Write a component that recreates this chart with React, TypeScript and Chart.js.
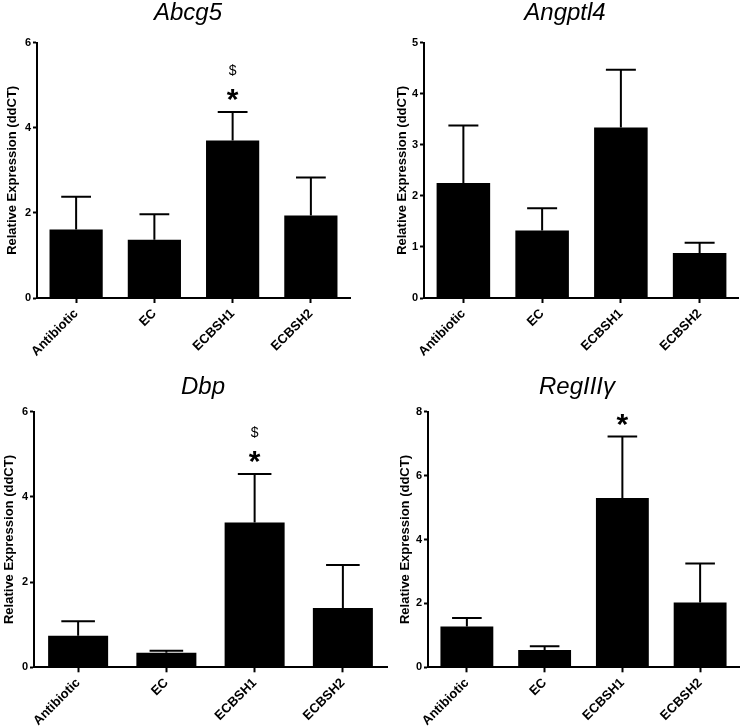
import React, { useEffect, useRef } from "react";
import { Chart, registerables } from "chart.js";

Chart.register(...registerables);

// ---------- data ----------
const categories = ["Antibiotic", "EC", "ECBSH1", "ECBSH2"];
const yAxisTitle = "Relative Expression (ddCT)";

const abcg5Mean = [1.61, 1.37, 3.7, 1.94];
const abcg5Err = [0.77, 0.6, 0.67, 0.89];
const abcg5Star = ["", "", "*", ""];
const abcg5Dollar = ["", "", "$", ""];
const abcg5Ticks = { max: 6, step: 2 };

const angptl4Mean = [2.25, 1.32, 3.34, 0.88];
const angptl4Err = [1.13, 0.44, 1.13, 0.2];
const angptl4Star = ["", "", "", ""];
const angptl4Dollar = ["", "", "", ""];
const angptl4Ticks = { max: 5, step: 1 };

const dbpMean = [0.74, 0.34, 3.4, 1.39];
const dbpErr = [0.34, 0.05, 1.14, 1.01];
const dbpStar = ["", "", "*", ""];
const dbpDollar = ["", "", "$", ""];
const dbpTicks = { max: 6, step: 2 };

const regMean = [1.28, 0.54, 5.3, 2.03];
const regErr = [0.26, 0.12, 1.92, 1.22];
const regStar = ["", "", "*", ""];
const regDollar = ["", "", "", ""];
const regTicks = { max: 8, step: 2 };

const FONT = "'Liberation Sans', Arial, Helvetica, sans-serif";

type PanelSpec = {
  title: string;
  mean: number[];
  err: number[];
  star: string[];
  dollar: string[];
  ticks: { max: number; step: number };
  left: number;
  top: number;
  width: number;
  height: number;
  yWidth: number;
  y2Width: number;
  xHeight: number;
  titlePadTop: number;
  titlePadBottom: number;
  yTitlePad: number;
};

const panels: PanelSpec[] = [
  {
    title: "Abcg5", mean: abcg5Mean, err: abcg5Err, star: abcg5Star, dollar: abcg5Dollar, ticks: abcg5Ticks,
    left: 0, top: 0, width: 376, height: 364, yWidth: 37, y2Width: 26, xHeight: 66,
    titlePadTop: 1, titlePadBottom: 17.7, yTitlePad: 4.8,
  },
  {
    title: "Angptl4", mean: angptl4Mean, err: angptl4Err, star: angptl4Star, dollar: angptl4Dollar, ticks: angptl4Ticks,
    left: 391, top: 0, width: 348, height: 364, yWidth: 33, y2Width: 0, xHeight: 66,
    titlePadTop: 1, titlePadBottom: 17.7, yTitlePad: 4,
  },
  {
    title: "Dbp", mean: dbpMean, err: dbpErr, star: dbpStar, dollar: dbpDollar, ticks: dbpTicks,
    left: 0, top: 364, width: 406, height: 364, yWidth: 34, y2Width: 19, xHeight: 60.7,
    titlePadTop: 11.3, titlePadBottom: 12.4, yTitlePad: 2,
  },
  {
    title: "RegIII\u03b3", mean: regMean, err: regErr, star: regStar, dollar: regDollar, ticks: regTicks,
    left: 394, top: 364, width: 366, height: 364, yWidth: 34, y2Width: 21, xHeight: 60.7,
    titlePadTop: 11.3, titlePadBottom: 12.4, yTitlePad: 4,
  },
];

function makeErrorPlugin(p: PanelSpec) {
  return {
    id: "errorBarsAndMarks",
    afterDatasetsDraw(chart: any) {
      const { ctx } = chart;
      const meta = chart.getDatasetMeta(0);
      const ys = chart.scales.y;
      ctx.save();
      ctx.strokeStyle = "#000";
      ctx.fillStyle = "#000";
      ctx.lineWidth = 2;
      ctx.lineCap = "butt";
      meta.data.forEach((bar: any, i: number) => {
        const v = p.mean[i];
        const topPx = ys.getPixelForValue(v + p.err[i]);
        const half = bar.width * 0.28;
        ctx.beginPath();
        ctx.moveTo(bar.x, bar.y);
        ctx.lineTo(bar.x, topPx);
        ctx.moveTo(bar.x - half, topPx);
        ctx.lineTo(bar.x + half, topPx);
        ctx.stroke();
        ctx.textAlign = "center";
        if (p.star[i]) {
          ctx.font = `bold 30px ${FONT}`;
          ctx.textBaseline = "alphabetic";
          ctx.fillText(p.star[i], bar.x, topPx - 3);
        }
        if (p.dollar[i]) {
          ctx.font = `14px ${FONT}`;
          ctx.textBaseline = "middle";
          ctx.fillText(p.dollar[i], bar.x, topPx - 41);
        }
      });
      ctx.restore();
    },
  };
}

function Panel({ spec }: { spec: PanelSpec }) {
  const ref = useRef<HTMLCanvasElement | null>(null);
  useEffect(() => {
    if (!ref.current) return;
    const chart = new Chart(ref.current, {
      type: "bar",
      data: {
        labels: categories,
        datasets: [
          {
            data: spec.mean,
            backgroundColor: "#000",
            borderWidth: 0,
            barPercentage: 0.68,
            categoryPercentage: 1,
          },
        ],
      },
      options: {
        responsive: false,
        animation: false,
        devicePixelRatio: 1,
        layout: { padding: 0 },
        plugins: {
          legend: { display: false },
          tooltip: { enabled: false },
          title: {
            display: true,
            text: spec.title,
            color: "#000",
            fullSize: true,
            font: { family: FONT, size: 24, style: "italic", weight: "normal", lineHeight: 1 },
            padding: { top: spec.titlePadTop, bottom: spec.titlePadBottom },
          },
        },
        scales: {
          x: {
            type: "category",
            offset: true,
            grid: {
              display: true,
              drawOnChartArea: false,
              drawTicks: true,
              tickLength: 5,
              tickWidth: 2,
              tickColor: "#000",
              color: "#000",
              offset: false,
            },
            border: { display: true, color: "#000", width: 2 },
            ticks: {
              color: "#000",
              font: { family: FONT, size: 13, weight: "bold" },
              minRotation: 45,
              maxRotation: 45,
              autoSkip: false,
              padding: 3,
            },
            afterFit: (s: any) => {
              s.height = spec.xHeight;
            },
          },
          y: {
            min: 0,
            max: spec.ticks.max,
            grid: {
              display: true,
              drawOnChartArea: false,
              drawTicks: true,
              tickLength: 4,
              tickWidth: 2,
              tickColor: "#000",
              color: "#000",
            },
            border: { display: true, color: "#000", width: 2 },
            ticks: {
              stepSize: spec.ticks.step,
              color: "#000",
              font: { family: FONT, size: 11, weight: "bold" },
              padding: 2,
            },
            title: {
              display: true,
              text: yAxisTitle,
              color: "#000",
              font: { family: FONT, size: 13, weight: "bold" },
              padding: { top: spec.yTitlePad, bottom: 0 },
            },
            afterFit: (s: any) => {
              s.width = spec.yWidth;
            },
          },
          y2: {
            position: "right",
            display: true,
            grid: { display: false },
            border: { display: false },
            ticks: { display: false },
            afterFit: (s: any) => {
              s.width = spec.y2Width;
            },
          },
        },
      },
      plugins: [makeErrorPlugin(spec)],
    } as any);
    return () => chart.destroy();
  }, [spec]);
  return (
    <canvas
      ref={ref}
      width={spec.width}
      height={spec.height}
      style={{
        position: "absolute",
        left: spec.left,
        top: spec.top,
        width: spec.width,
        height: spec.height,
        display: "block",
      }}
    />
  );
}

export default function App() {
  return (
    <div
      style={{
        position: "absolute",
        left: 0,
        top: 0,
        width: 744,
        height: 728,
        overflow: "hidden",
        background: "#fff",
      }}
    >
      {panels.map((p) => (
        <Panel key={p.title} spec={p} />
      ))}
    </div>
  );
}
